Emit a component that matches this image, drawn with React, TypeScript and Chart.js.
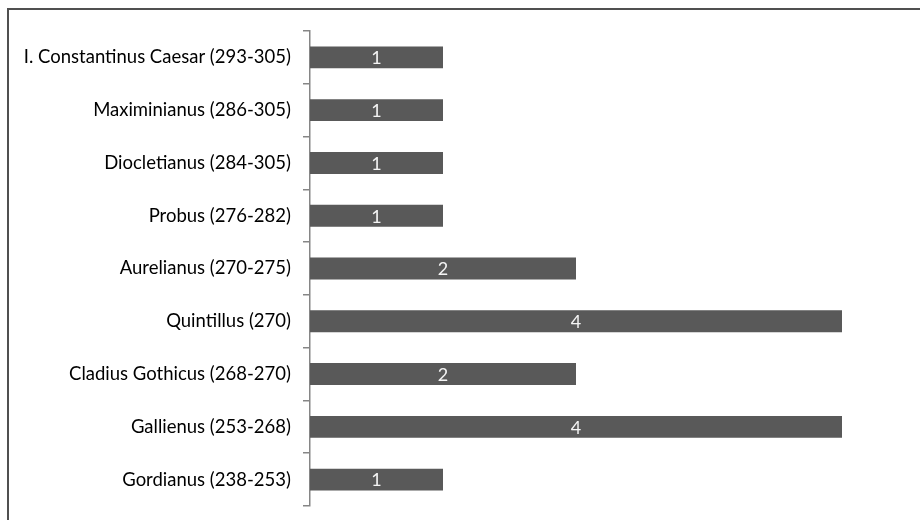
import React, { useEffect, useRef } from "react";
import { Chart, registerables } from "chart.js";

Chart.register(...registerables);

const categories = [
  "I. Constantinus Caesar (293-305)",
  "Maximinianus (286-305)",
  "Diocletianus (284-305)",
  "Probus (276-282)",
  "Aurelianus (270-275)",
  "Quintillus (270)",
  "Cladius Gothicus (268-270)",
  "Gallienus (253-268)",
  "Gordianus (238-253)",
];
const values = [1, 1, 1, 1, 2, 4, 2, 4, 1];

const FONT = "Lato, 'Open Sans', sans-serif";

const valueLabels = {
  id: "valueLabels",
  afterDatasetsDraw(chart: any) {
    const ctx = chart.ctx;
    const meta = chart.getDatasetMeta(0);
    ctx.save();
    ctx.fillStyle = "#f4f4f4";
    ctx.font = `18px ${FONT}`;
    ctx.textAlign = "center";
    ctx.textBaseline = "middle";
    meta.data.forEach((bar: any, i: number) => {
      const cx = (bar.x + bar.base) / 2;
      ctx.fillText(String(values[i]), cx, bar.y + 1);
    });
    ctx.restore();
  },
};

export default function App() {
  const ref = useRef<HTMLCanvasElement | null>(null);
  useEffect(() => {
    if (!ref.current) return;
    const chart = new Chart(ref.current, {
      type: "bar",
      data: {
        labels: categories,
        datasets: [
          {
            data: values,
            backgroundColor: "#595959",
            borderWidth: 0,
            barPercentage: 0.415,
            categoryPercentage: 1,
          },
        ],
      },
      options: {
        indexAxis: "y",
        animation: false,
        responsive: false,
        maintainAspectRatio: false,
        layout: { padding: { top: 31, bottom: 14, right: 78, left: 0 } },
        plugins: { legend: { display: false }, tooltip: { enabled: false } },
        scales: {
          x: { display: false, min: 0, max: 4 },
          y: {
            afterFit: (s: any) => {
              s.width = 310;
              s.paddingTop = 0;
              s.paddingBottom = 0;
            },
            border: { display: true, color: "#868686", width: 1.5 },
            grid: {
              offset: true,
              drawOnChartArea: false,
              drawTicks: true,
              tickLength: 7,
              color: "#868686",
              lineWidth: 1.5,
            },
            ticks: {
              color: "#000000",
              padding: 12,
              font: { family: FONT, size: 18.5 },
            },
          },
        },
      },
      plugins: [valueLabels],
    });
    return () => chart.destroy();
  }, []);
  return (
    <div style={{ position: "fixed", inset: 0, overflow: "hidden", background: "#fff" }}>
      <div
        style={{
          position: "absolute",
          left: 7,
          top: 8,
          width: 1000,
          height: 600,
          borderTop: "2px solid #505050",
          borderLeft: "2px solid #505050",
        }}
      />
      <canvas
        ref={ref}
        width={920}
        height={520}
        style={{ position: "absolute", left: 0, top: 0, width: 920, height: 520 }}
      />
    </div>
  );
}
